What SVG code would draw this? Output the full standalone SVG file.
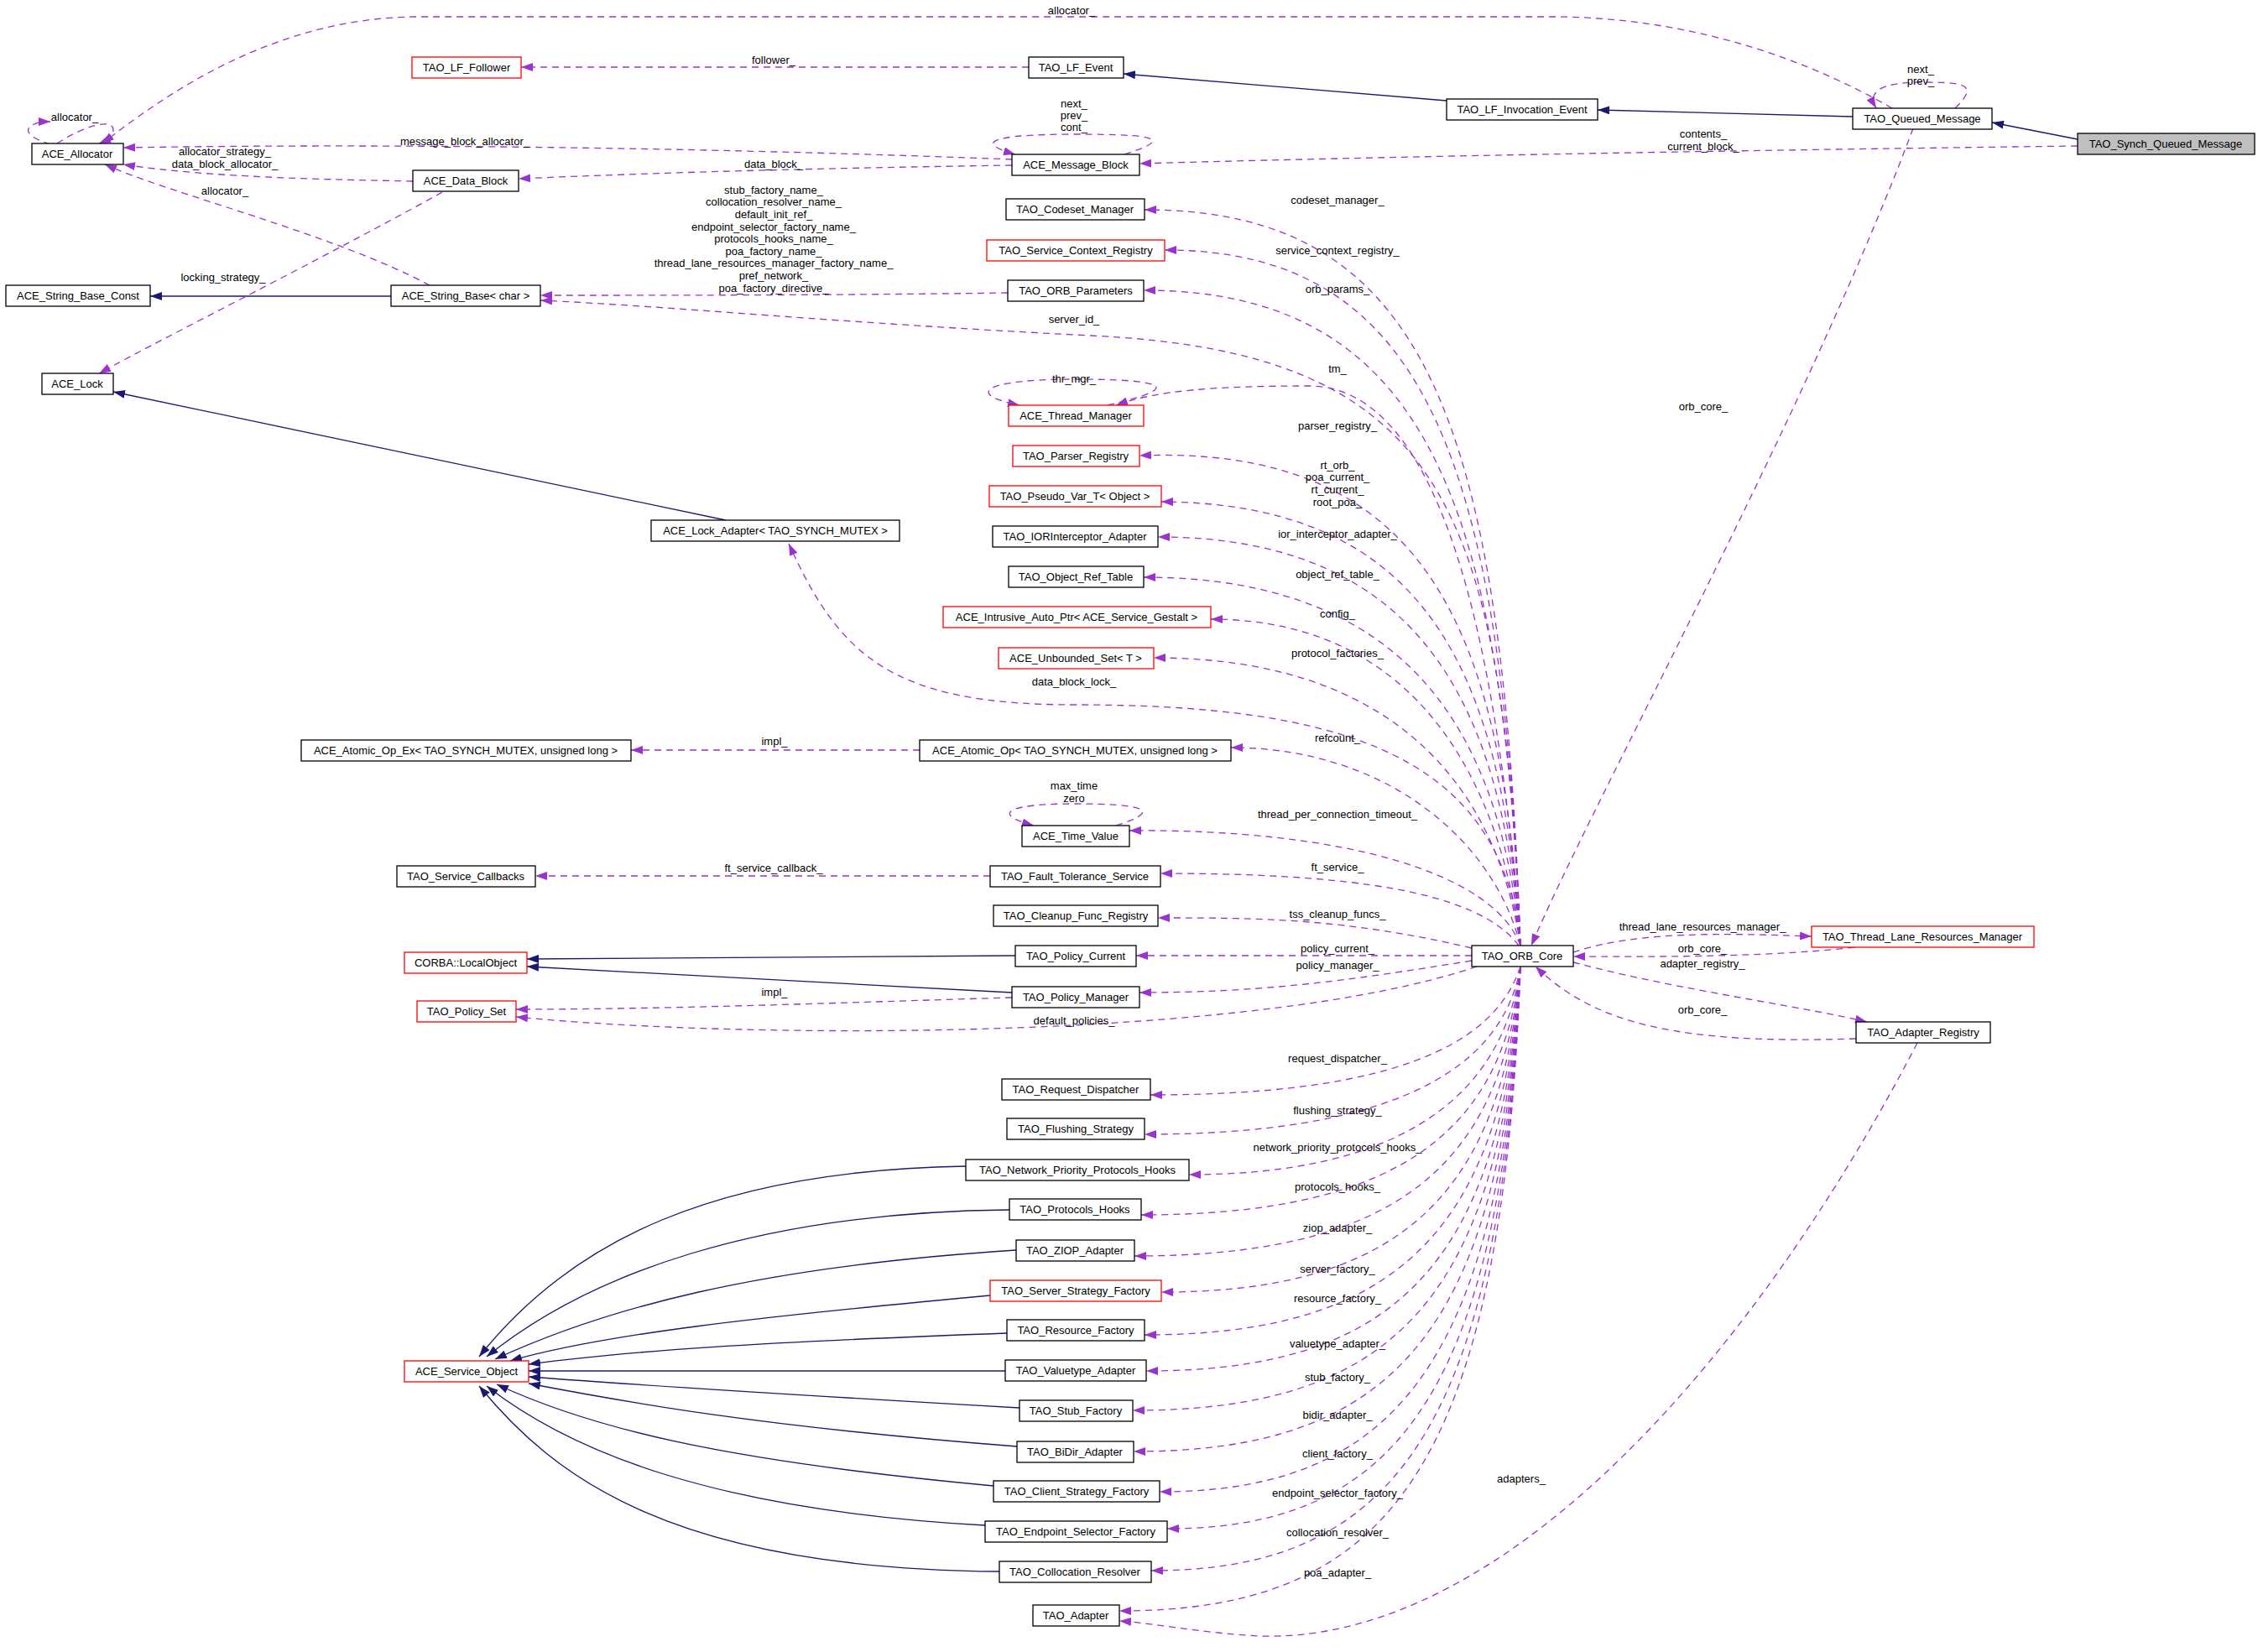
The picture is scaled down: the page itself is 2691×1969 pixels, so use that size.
<svg xmlns="http://www.w3.org/2000/svg" width="2691" height="1969" viewBox="0 0 2691 1969">
<style>
rect{fill:#fff;stroke:#000;stroke-width:1.3}
.r rect{stroke:#f00}
.g rect{fill:#bfbfbf}
text{font-family:"Liberation Sans",Arial,sans-serif;font-size:13px;text-anchor:middle;fill:#000}
.d{fill:none;stroke:#9a32cd;stroke-width:1.3;stroke-dasharray:8,6;marker-end:url(#ap)}
.s{fill:none;stroke:#191970;stroke-width:1.3;marker-end:url(#an)}
</style>
<defs>
<marker id="ap" markerUnits="userSpaceOnUse" markerWidth="14" markerHeight="10" refX="14" refY="5" orient="auto"><path d="M0,0 L14,5 L0,10 z" fill="#9a32cd"/></marker>
<marker id="an" markerUnits="userSpaceOnUse" markerWidth="14" markerHeight="10" refX="14" refY="5" orient="auto"><path d="M0,0 L14,5 L0,10 z" fill="#191970"/></marker>
</defs>
<rect x="0" y="0" width="2691" height="1969" style="fill:#fff;stroke:none"/>
<g id="connectors">
<path class="s" d="M2476,166 L2374,146"/>
<path class="s" d="M2208,139 L1904,131"/>
<path class="s" d="M1724,120 L1339,88"/>
<path class="s" d="M466,353 L179,353"/>
<path class="s" d="M865,620 L135,467"/>
<path class="s" d="M1210,1139 L628,1143"/>
<path class="s" d="M1206,1183 L628,1152"/>
<path class="s" d="M1151,1390 C850,1395 680,1480 571,1617"/>
<path class="s" d="M1203,1442 C900,1445 700,1520 580,1617"/>
<path class="s" d="M1211,1490 C900,1510 720,1560 590,1620"/>
<path class="s" d="M1180,1544 C900,1570 720,1590 608,1622"/>
<path class="s" d="M1200,1589 C900,1600 750,1610 630,1626"/>
<path class="s" d="M1198,1634 L630,1634"/>
<path class="s" d="M1215,1678 C900,1660 750,1650 630,1641"/>
<path class="s" d="M1212,1724 C900,1700 740,1670 630,1649"/>
<path class="s" d="M1184,1771 C850,1740 700,1700 592,1650"/>
<path class="s" d="M1174,1818 C850,1800 680,1730 580,1652"/>
<path class="s" d="M1191,1873 C800,1870 660,1760 571,1652"/>
<path class="d" d="M2255,129 C2100,40 1950,20 1850,20 L500,20 C330,20 200,110 122,171"/>
<path class="d" d="M2330,129 C2360,100 2340,98 2290,98 C2240,98 2225,110 2236,129"/>
<path class="d" d="M1226,80 L621,80"/>
<path class="d" d="M68,171 C100,150 135,140 135,155 C135,165 125,168 118,171"/>
<path class="d" d="M60,172 C20,160 30,145 60,145"/>
<path class="d" d="M1206,190 C900,178 500,170 147,176"/>
<path class="d" d="M492,216 C400,214 250,212 147,196"/>
<path class="d" d="M512,340 C400,280 200,230 125,196"/>
<path class="d" d="M527,229 C400,300 200,400 118,445"/>
<path class="d" d="M1206,197 C1000,200 800,205 618,213"/>
<path class="d" d="M1340,184 C1400,165 1380,160 1280,160 C1180,160 1160,170 1210,184"/>
<path class="d" d="M2476,174 C2000,180 1600,188 1358,195"/>
<path class="d" d="M1201,349 C1000,352 800,352 644,352"/>
<path class="d" d="M1812,1127 C1790,600 1720,420 1300,400 C1000,385 800,365 644,358"/>
<path class="d" d="M2280,153 C2150,500 1900,950 1825,1127"/>
<path class="d" d="M1812,1127 C1790,500 1700,250 1364,250"/>
<path class="d" d="M1812,1127 C1790,550 1700,298 1388,298"/>
<path class="d" d="M1812,1127 C1790,600 1700,346 1363,346"/>
<path class="d" d="M1812,1127 C1780,700 1700,460 1560,460 C1450,460 1380,465 1330,483"/>
<path class="d" d="M1320,483 C1420,460 1380,452 1280,452 C1170,452 1150,470 1215,483"/>
<path class="d" d="M1812,1127 C1790,750 1700,530 1358,543"/>
<path class="d" d="M1812,1127 C1790,800 1700,600 1384,598"/>
<path class="d" d="M1812,1127 C1790,850 1700,640 1380,640"/>
<path class="d" d="M1812,1127 C1790,900 1700,688 1363,688"/>
<path class="d" d="M1812,1127 C1790,950 1700,738 1443,738"/>
<path class="d" d="M1812,1127 C1790,980 1700,784 1375,784"/>
<path class="d" d="M1812,1127 C1790,900 1600,840 1280,840 C1060,840 1000,780 940,648"/>
<path class="d" d="M1096,894 L752,894"/>
<path class="d" d="M1812,1127 C1780,1000 1650,891 1467,891"/>
<path class="d" d="M1812,1127 C1780,1040 1600,988 1346,990"/>
<path class="d" d="M1330,984 C1390,965 1360,958 1280,958 C1200,958 1180,970 1232,984"/>
<path class="d" d="M1180,1044 L638,1044"/>
<path class="d" d="M1810,1127 C1760,1060 1600,1041 1383,1041"/>
<path class="d" d="M1754,1130 C1600,1094 1500,1094 1380,1094"/>
<path class="d" d="M1754,1139 L1354,1139"/>
<path class="d" d="M1754,1145 C1600,1170 1500,1183 1358,1183"/>
<path class="d" d="M1206,1189 C1000,1195 800,1203 615,1203"/>
<path class="d" d="M1760,1152 C1500,1240 900,1240 615,1212"/>
<path class="d" d="M1875,1135 C1950,1110 2050,1112 2159,1116"/>
<path class="d" d="M2210,1129 C2100,1142 1950,1140 1875,1140"/>
<path class="d" d="M1875,1147 C2000,1180 2150,1200 2225,1218"/>
<path class="d" d="M2212,1238 C2000,1245 1900,1220 1830,1152"/>
<path class="d" d="M1812,1152 C1780,1250 1650,1305 1371,1305"/>
<path class="d" d="M1812,1152 C1790,1280 1650,1352 1364,1352"/>
<path class="d" d="M1812,1152 C1790,1320 1650,1400 1417,1400"/>
<path class="d" d="M1812,1152 C1790,1360 1650,1448 1360,1448"/>
<path class="d" d="M1812,1152 C1790,1400 1650,1497 1352,1497"/>
<path class="d" d="M1812,1152 C1790,1440 1650,1540 1384,1540"/>
<path class="d" d="M1812,1152 C1790,1480 1650,1591 1364,1591"/>
<path class="d" d="M1812,1152 C1790,1520 1650,1634 1366,1634"/>
<path class="d" d="M1812,1152 C1790,1560 1650,1681 1350,1681"/>
<path class="d" d="M1812,1152 C1790,1600 1650,1730 1351,1730"/>
<path class="d" d="M1812,1152 C1790,1640 1650,1778 1382,1778"/>
<path class="d" d="M1812,1152 C1790,1680 1650,1822 1391,1822"/>
<path class="d" d="M1812,1152 C1790,1720 1650,1872 1372,1872"/>
<path class="d" d="M1812,1152 C1790,1760 1650,1920 1334,1920"/>
<path class="d" d="M2285,1243 C2100,1600 1800,1960 1500,1950 C1420,1945 1380,1935 1334,1932"/>
</g>
<g id="labels">
<text x="1277" y="17">allocator_</text>
<text x="2289" y="87">next_</text><text x="2289" y="101">prev_</text>
<text x="922" y="76">follower_</text>
<text x="89" y="144">allocator_</text>
<text x="554" y="173">message_block_allocator_</text>
<text x="268" y="185">allocator_strategy_</text><text x="268" y="200">data_block_allocator_</text>
<text x="268" y="232">allocator_</text>
<text x="922" y="200">data_block_</text>
<text x="1280" y="128">next_</text><text x="1280" y="142">prev_</text><text x="1280" y="156">cont_</text>
<text x="2030" y="164">contents_</text><text x="2030" y="179">current_block_</text>
<text x="922" y="231">stub_factory_name_</text>
<text x="922" y="245">collocation_resolver_name_</text>
<text x="922" y="260">default_init_ref_</text>
<text x="922" y="275">endpoint_selector_factory_name_</text>
<text x="922" y="289">protocols_hooks_name_</text>
<text x="922" y="304">poa_factory_name_</text>
<text x="922" y="318">thread_lane_resources_manager_factory_name_</text>
<text x="922" y="333">pref_network_</text>
<text x="922" y="348">poa_factory_directive_</text>
<text x="266" y="335">locking_strategy_</text>
<text x="1280" y="385">server_id_</text>
<text x="1280" y="456">thr_mgr_</text>
<text x="2030" y="489">orb_core_</text>
<text x="1594" y="243">codeset_manager_</text>
<text x="1594" y="303">service_context_registry_</text>
<text x="1594" y="349">orb_params_</text>
<text x="1594" y="444">tm_</text>
<text x="1594" y="512">parser_registry_</text>
<text x="1594" y="559">rt_orb_</text><text x="1594" y="573">poa_current_</text><text x="1594" y="588">rt_current_</text><text x="1594" y="603">root_poa_</text>
<text x="1594" y="641">ior_interceptor_adapter_</text>
<text x="1594" y="689">object_ref_table_</text>
<text x="1594" y="736">config_</text>
<text x="1594" y="783">protocol_factories_</text>
<text x="1280" y="817">data_block_lock_</text>
<text x="923" y="888">impl_</text>
<text x="1594" y="884">refcount_</text>
<text x="1280" y="941">max_time</text><text x="1280" y="956">zero</text>
<text x="1594" y="975">thread_per_connection_timeout_</text>
<text x="922" y="1039">ft_service_callback_</text>
<text x="1594" y="1038">ft_service_</text>
<text x="1594" y="1094">tss_cleanup_funcs_</text>
<text x="1594" y="1135">policy_current_</text>
<text x="1594" y="1155">policy_manager_</text>
<text x="923" y="1187">impl_</text>
<text x="1280" y="1221">default_policies_</text>
<text x="2029" y="1109">thread_lane_resources_manager_</text>
<text x="2029" y="1135">orb_core_</text>
<text x="2029" y="1153">adapter_registry_</text>
<text x="2029" y="1208">orb_core_</text>
<text x="1594" y="1266">request_dispatcher_</text>
<text x="1594" y="1328">flushing_strategy_</text>
<text x="1594" y="1372">network_priority_protocols_hooks_</text>
<text x="1594" y="1419">protocols_hooks_</text>
<text x="1594" y="1468">ziop_adapter_</text>
<text x="1594" y="1517">server_factory_</text>
<text x="1594" y="1552">resource_factory_</text>
<text x="1594" y="1606">valuetype_adapter_</text>
<text x="1594" y="1646">stub_factory_</text>
<text x="1594" y="1691">bidir_adapter_</text>
<text x="1594" y="1737">client_factory_</text>
<text x="1594" y="1784">endpoint_selector_factory_</text>
<text x="1594" y="1831">collocation_resolver_</text>
<text x="1594" y="1879">poa_adapter_</text>
<text x="1813" y="1767">adapters_</text>
</g>
<g id="n_synch" class="g"><rect x="2476" y="159" width="211" height="25"/><text x="2581" y="176">TAO_Synch_Queued_Message</text></g>
<g id="n_queued"><rect x="2208" y="129" width="166" height="25"/><text x="2291" y="146">TAO_Queued_Message</text></g>
<g id="n_lfinv"><rect x="1724" y="118" width="180" height="25"/><text x="1814" y="135">TAO_LF_Invocation_Event</text></g>
<g id="n_lfevent"><rect x="1226" y="68" width="113" height="25"/><text x="1282" y="85">TAO_LF_Event</text></g>
<g id="n_lffollower" class="r"><rect x="491" y="68" width="130" height="25"/><text x="556" y="85">TAO_LF_Follower</text></g>
<g id="n_alloc"><rect x="38" y="171" width="109" height="25"/><text x="92" y="188">ACE_Allocator</text></g>
<g id="n_msgblock"><rect x="1206" y="184" width="152" height="25"/><text x="1282" y="201">ACE_Message_Block</text></g>
<g id="n_datablock"><rect x="492" y="203" width="126" height="25"/><text x="555" y="220">ACE_Data_Block</text></g>
<g id="n_codeset"><rect x="1199" y="237" width="165" height="25"/><text x="1281" y="254">TAO_Codeset_Manager</text></g>
<g id="n_scr" class="r"><rect x="1176" y="286" width="212" height="25"/><text x="1282" y="303">TAO_Service_Context_Registry</text></g>
<g id="n_sbconst"><rect x="7" y="340" width="172" height="25"/><text x="93" y="357">ACE_String_Base_Const</text></g>
<g id="n_sbchar"><rect x="466" y="340" width="178" height="25"/><text x="555" y="357">ACE_String_Base&lt; char &gt;</text></g>
<g id="n_orbparams"><rect x="1201" y="334" width="162" height="25"/><text x="1282" y="351">TAO_ORB_Parameters</text></g>
<g id="n_lock"><rect x="50" y="445" width="85" height="25"/><text x="92" y="462">ACE_Lock</text></g>
<g id="n_thrmgr" class="r"><rect x="1202" y="483" width="161" height="25"/><text x="1282" y="500">ACE_Thread_Manager</text></g>
<g id="n_parser" class="r"><rect x="1207" y="531" width="151" height="25"/><text x="1282" y="548">TAO_Parser_Registry</text></g>
<g id="n_pseudo" class="r"><rect x="1179" y="579" width="205" height="25"/><text x="1281" y="596">TAO_Pseudo_Var_T&lt; Object &gt;</text></g>
<g id="n_lockadapter"><rect x="776" y="620" width="296" height="25"/><text x="924" y="637">ACE_Lock_Adapter&lt; TAO_SYNCH_MUTEX &gt;</text></g>
<g id="n_ior"><rect x="1183" y="627" width="197" height="25"/><text x="1281" y="644">TAO_IORInterceptor_Adapter</text></g>
<g id="n_objref"><rect x="1202" y="675" width="161" height="25"/><text x="1282" y="692">TAO_Object_Ref_Table</text></g>
<g id="n_intrusive" class="r"><rect x="1124" y="723" width="319" height="25"/><text x="1283" y="740">ACE_Intrusive_Auto_Ptr&lt; ACE_Service_Gestalt &gt;</text></g>
<g id="n_unbounded" class="r"><rect x="1190" y="772" width="185" height="25"/><text x="1282" y="789">ACE_Unbounded_Set&lt; T &gt;</text></g>
<g id="n_atomicex"><rect x="359" y="882" width="393" height="25"/><text x="555" y="899">ACE_Atomic_Op_Ex&lt; TAO_SYNCH_MUTEX, unsigned long &gt;</text></g>
<g id="n_atomic"><rect x="1096" y="882" width="371" height="25"/><text x="1281" y="899">ACE_Atomic_Op&lt; TAO_SYNCH_MUTEX, unsigned long &gt;</text></g>
<g id="n_timevalue"><rect x="1218" y="984" width="128" height="25"/><text x="1282" y="1001">ACE_Time_Value</text></g>
<g id="n_svccallbacks"><rect x="473" y="1032" width="165" height="25"/><text x="555" y="1049">TAO_Service_Callbacks</text></g>
<g id="n_fault"><rect x="1180" y="1032" width="203" height="25"/><text x="1281" y="1049">TAO_Fault_Tolerance_Service</text></g>
<g id="n_cleanup"><rect x="1184" y="1079" width="196" height="25"/><text x="1282" y="1096">TAO_Cleanup_Func_Registry</text></g>
<g id="n_localobj" class="r"><rect x="482" y="1135" width="146" height="25"/><text x="555" y="1152">CORBA::LocalObject</text></g>
<g id="n_polcur"><rect x="1210" y="1127" width="144" height="25"/><text x="1282" y="1144">TAO_Policy_Current</text></g>
<g id="n_polmgr"><rect x="1206" y="1176" width="152" height="25"/><text x="1282" y="1193">TAO_Policy_Manager</text></g>
<g id="n_polset" class="r"><rect x="497" y="1193" width="118" height="25"/><text x="556" y="1210">TAO_Policy_Set</text></g>
<g id="n_reqdisp"><rect x="1194" y="1286" width="177" height="25"/><text x="1282" y="1303">TAO_Request_Dispatcher</text></g>
<g id="n_flush"><rect x="1200" y="1333" width="164" height="25"/><text x="1282" y="1350">TAO_Flushing_Strategy</text></g>
<g id="n_netprio"><rect x="1151" y="1382" width="266" height="25"/><text x="1284" y="1399">TAO_Network_Priority_Protocols_Hooks</text></g>
<g id="n_prothooks"><rect x="1203" y="1429" width="157" height="25"/><text x="1281" y="1446">TAO_Protocols_Hooks</text></g>
<g id="n_ziop"><rect x="1211" y="1478" width="141" height="25"/><text x="1281" y="1495">TAO_ZIOP_Adapter</text></g>
<g id="n_serverstrat" class="r"><rect x="1180" y="1526" width="204" height="25"/><text x="1282" y="1543">TAO_Server_Strategy_Factory</text></g>
<g id="n_resource"><rect x="1200" y="1573" width="164" height="25"/><text x="1282" y="1590">TAO_Resource_Factory</text></g>
<g id="n_valuetype"><rect x="1198" y="1621" width="168" height="25"/><text x="1282" y="1638">TAO_Valuetype_Adapter</text></g>
<g id="n_stub"><rect x="1215" y="1669" width="135" height="25"/><text x="1282" y="1686">TAO_Stub_Factory</text></g>
<g id="n_bidir"><rect x="1212" y="1718" width="139" height="25"/><text x="1281" y="1735">TAO_BiDir_Adapter</text></g>
<g id="n_client"><rect x="1184" y="1765" width="198" height="25"/><text x="1283" y="1782">TAO_Client_Strategy_Factory</text></g>
<g id="n_endpoint"><rect x="1174" y="1813" width="217" height="25"/><text x="1282" y="1830">TAO_Endpoint_Selector_Factory</text></g>
<g id="n_colloc"><rect x="1191" y="1861" width="181" height="25"/><text x="1281" y="1878">TAO_Collocation_Resolver</text></g>
<g id="n_adapter"><rect x="1231" y="1913" width="103" height="25"/><text x="1282" y="1930">TAO_Adapter</text></g>
<g id="n_aso" class="r"><rect x="482" y="1622" width="148" height="25"/><text x="556" y="1639">ACE_Service_Object</text></g>
<g id="n_orbcore"><rect x="1754" y="1127" width="121" height="25"/><text x="1814" y="1144">TAO_ORB_Core</text></g>
<g id="n_tlrm" class="r"><rect x="2159" y="1104" width="265" height="25"/><text x="2291" y="1121">TAO_Thread_Lane_Resources_Manager</text></g>
<g id="n_adreg"><rect x="2212" y="1218" width="160" height="25"/><text x="2292" y="1235">TAO_Adapter_Registry</text></g>
</svg>
